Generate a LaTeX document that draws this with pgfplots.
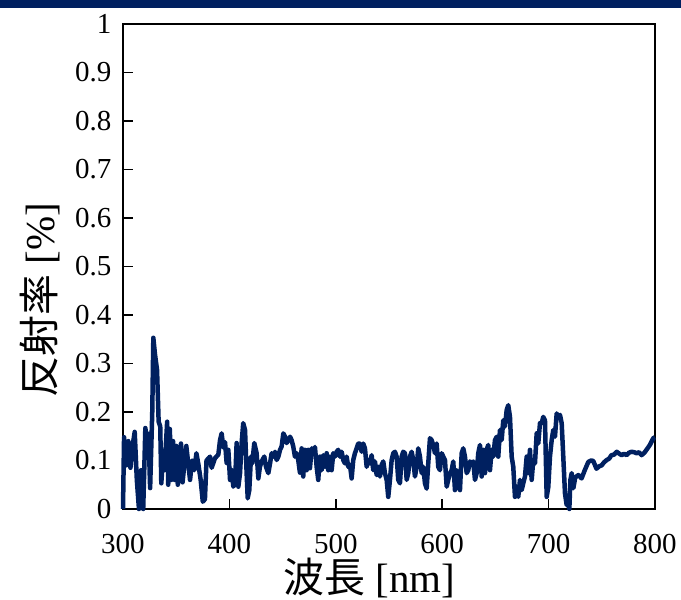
\documentclass[border=0pt]{standalone}
\usepackage{fontspec}
\setmainfont{Liberation Serif}
\newfontfamily\cjk{Noto Sans CJK JP}
\usepackage{pgfplots}
\pgfplotsset{compat=1.18}
\definecolor{navy}{RGB}{0,32,96}

\begin{document}
\begin{tikzpicture}
\path[use as bounding box] (-123pt,-91pt) rectangle (558pt,509pt);
% slide header strip at top
\fill[navy] (-123pt,501pt) rectangle (558pt,512pt);
\begin{axis}[
    at={(0pt,0pt)}, anchor=south west,
    scale only axis,
    width=532pt, height=485pt,
    xmin=300, xmax=800, ymin=0, ymax=1,
    xtick={300,400,500,600,700,800},
    ytick={0,0.1,0.2,0.3,0.4,0.5,0.6,0.7,0.8,0.9,1},
    yticklabels={0,0.1,0.2,0.3,0.4,0.5,0.6,0.7,0.8,0.9,1},
    xtick pos=bottom, ytick pos=left,
    tick align=inside,
    major tick length=10pt,
    tick style={black, line width=1.5pt},
    axis line style={black, line width=1.8pt},
    /pgf/number format/assume math mode=true,
    ticklabel style={font=\fontsize{29}{33}\selectfont},
    xticklabel style={yshift=-22pt},
    yticklabel style={xshift=-8pt},
    xlabel={{\cjk 波長} [nm]},
    ylabel={{\cjk 反射率} [\%]},
    label style={font=\fontsize{41}{47}\selectfont},
    xlabel style={at={(axis description cs:0.463,-0.142)}, anchor=center},
    ylabel style={at={(axis description cs:-0.156,0.431)}, anchor=center},
    clip=false,
]
\addplot[navy, line width=4.5pt, line join=round] coordinates {
(300,0.000) (301,0.148) (303,0.090) (305,0.140) (307,0.085) (309,0.130)
(311,0.159) (313,0.060) (315,0.000) (317,0.080) (319,0.000) (321,0.167)
(323,0.130) (324,0.155) (325.5,0.043) (327.5,0.200) (328.5,0.353) (330,0.320)
(332,0.287) (333.5,0.180) (335,0.170) (336,0.053) (338,0.120) (339,0.080)
(340.5,0.140) (341.5,0.180) (342.5,0.050) (344,0.165) (345.5,0.060) (347,0.140)
(348.5,0.060) (350,0.130) (351.5,0.050) (353,0.110) (354.5,0.135) (356,0.055)
(358,0.100) (359.5,0.130) (361.5,0.090) (363,0.060) (365,0.100) (367,0.080)
(369,0.115) (371,0.090) (373,0.060) (375,0.015) (377,0.020) (378.5,0.100)
(381.8,0.108) (383.3,0.085) (386.5,0.105) (389.6,0.112) (391.2,0.142) (392.7,0.156)
(394.3,0.127) (395.9,0.138) (397.4,0.095) (399,0.122) (400.6,0.060) (402.1,0.081)
(403.7,0.046) (405.3,0.053) (406.8,0.136) (408.4,0.046) (410,0.074) (411.5,0.136)
(413,0.177) (414.7,0.163) (416.2,0.074) (417.2,0.022) (418.7,0.039) (420.3,0.108)
(421.5,0.094) (423.4,0.136) (425.6,0.115) (427.2,0.063) (428.7,0.087) (430.3,0.098)
(432.8,0.108) (434.4,0.087) (436.6,0.074) (438.2,0.094) (439.7,0.115) (441.3,0.108)
(442.9,0.118) (444.4,0.101) (446,0.108) (447.6,0.122) (449.1,0.129) (450.7,0.156)
(452.3,0.149) (453.8,0.136) (455.4,0.142) (457,0.149) (458.5,0.142) (460,0.129)
(461.6,0.108) (463.2,0.115) (464.7,0.101) (466.3,0.075) (467.9,0.125) (469.4,0.067)
(471,0.122) (472.6,0.080) (474.1,0.122) (475.7,0.084) (477.3,0.125) (478.8,0.115)
(480.4,0.128) (482,0.087) (483.5,0.060) (485.1,0.108) (486.7,0.080) (488.2,0.111)
(489.8,0.087) (491.4,0.115) (492.9,0.080) (494.5,0.108) (496.1,0.080) (497.6,0.115)
(499.2,0.108) (500.8,0.118) (502.3,0.122) (503.9,0.108) (505.5,0.118) (507,0.101)
(508.6,0.094) (510.2,0.108) (511.7,0.087) (513.3,0.091) (514.9,0.063) (516.4,0.101)
(518,0.115) (519.6,0.125) (521.1,0.135) (522.7,0.135) (524.3,0.118) (525.8,0.135)
(527.4,0.125) (529,0.087) (530.5,0.101) (532.1,0.094) (533.7,0.111) (535.2,0.080)
(536.8,0.098) (538.4,0.070) (539.9,0.087) (541.5,0.067) (543.1,0.091) (544.6,0.098)
(546.2,0.074) (547.8,0.060) (549.3,0.025) (550.9,0.060) (552.5,0.101) (554,0.115)
(555.6,0.118) (557.2,0.108) (558.7,0.060) (560.3,0.053) (561.9,0.108) (563.4,0.118)
(565,0.115) (566.6,0.060) (568.1,0.074) (569.7,0.108) (571.3,0.118) (572.8,0.101)
(574.4,0.067) (576,0.087) (577.5,0.125) (579.1,0.108) (580.7,0.074) (582.2,0.087)
(583.8,0.053) (585.4,0.042) (586.9,0.094) (588.5,0.146) (590.1,0.142) (591.6,0.132)
(593.2,0.115) (594.8,0.135) (596.3,0.087) (597.9,0.080) (599.5,0.115) (601,0.108)
(602.6,0.101) (604.2,0.046) (605.7,0.060) (607.3,0.074) (608.9,0.080) (610.4,0.098)
(612,0.039) (613.6,0.080) (615.1,0.060) (616.7,0.039) (618.3,0.115) (619.8,0.125)
(621.4,0.108) (623,0.074) (624.5,0.080) (626.1,0.098) (627.7,0.094) (629.2,0.098)
(630.8,0.060) (632.4,0.074) (633.9,0.115) (635.5,0.132) (637.1,0.067) (638.6,0.122)
(640.2,0.074) (641.8,0.122) (643.3,0.132) (644.9,0.080) (646.5,0.122) (648,0.108)
(649.6,0.142) (651.2,0.149) (652.7,0.108) (654.3,0.163) (655.9,0.142) (657.4,0.183)
(659,0.170) (660.6,0.204) (662.1,0.214) (663.7,0.190) (665.3,0.108) (666.8,0.087)
(668.4,0.025) (670,0.046) (671.5,0.025) (673.1,0.060) (674.7,0.039) (676.2,0.053)
(677.8,0.067) (679.4,0.108) (680.9,0.074) (682.5,0.122) (684.1,0.060) (685.6,0.101)
(687.2,0.094) (688.8,0.156) (690.3,0.135) (691.9,0.177) (693.5,0.177) (695,0.190)
(696.6,0.183) (698.2,0.025) (699.7,0.045) (701.3,0.108) (702.9,0.142) (704.4,0.163)
(706,0.149) (707.6,0.197) (709.1,0.190) (710.7,0.194) (712.3,0.177) (713.8,0.108)
(715.4,0.032) (717,0.008) (718.5,0.019) (719.5,0.000) (720.5,0.060) (721.7,0.074)
(723.3,0.043) (725,0.065) (728,0.070) (731,0.063) (734,0.080) (737.3,0.097)
(740,0.100) (742,0.099) (745,0.083) (747.5,0.088) (749.9,0.090) (752,0.096)
(754.6,0.101) (757,0.104) (759,0.111) (761.5,0.112) (764,0.118) (766.5,0.114)
(768.6,0.111) (771,0.114) (773.3,0.111) (775.5,0.116) (778,0.118) (780.5,0.117)
(782.7,0.115) (785,0.117) (787.4,0.111) (790,0.116) (792,0.122) (795.2,0.132)
(798.4,0.146) (800,0.148)
};
\end{axis}
\end{tikzpicture}
\end{document}
